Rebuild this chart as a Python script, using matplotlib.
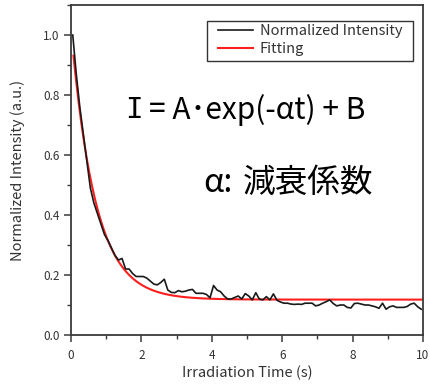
import numpy as np
import matplotlib
matplotlib.use("Agg")
import matplotlib.pyplot as plt
from matplotlib.ticker import MultipleLocator
from matplotlib.patches import Rectangle

plt.rcParams['font.family'] = ['Noto Sans CJK JP', 'DejaVu Sans']

# ---- data ----
t_start = 0.05
t_step = 0.1
intensity = [
    1.00, 0.87, 0.76, 0.67, 0.58, 0.49, 0.44, 0.405, 0.37, 0.335,
    0.315, 0.29, 0.265, 0.25, 0.255, 0.22, 0.22, 0.205, 0.195, 0.195,
    0.195, 0.19, 0.18, 0.17, 0.167, 0.175, 0.186, 0.15, 0.142, 0.141,
    0.148, 0.144, 0.146, 0.15, 0.152, 0.139, 0.139, 0.139, 0.135, 0.124,
    0.165, 0.15, 0.144, 0.13, 0.12, 0.12, 0.125, 0.13, 0.12, 0.138,
    0.13, 0.117, 0.141, 0.12, 0.117, 0.128, 0.117, 0.137, 0.116, 0.11,
    0.106, 0.106, 0.103, 0.102, 0.103, 0.102, 0.106, 0.106, 0.106, 0.097,
    0.100, 0.106, 0.111, 0.117, 0.105, 0.097, 0.100, 0.100, 0.092, 0.090,
    0.105, 0.106, 0.103, 0.100, 0.100, 0.097, 0.094, 0.089, 0.106, 0.086,
    0.094, 0.097, 0.092, 0.092, 0.092, 0.095, 0.103, 0.106, 0.094, 0.086,
]
time = t_start + t_step * np.arange(len(intensity))

# fitting parameters  I = A*exp(-alpha t) + B
fit_A = 0.90
fit_alpha = 1.45
fit_B = 0.118
fit_t0 = 0.07

x_ticks = [0, 2, 4, 6, 8, 10]
y_ticks = [0.0, 0.2, 0.4, 0.6, 0.8, 1.0]

W, H = 430, 387
fig = plt.figure(figsize=(W/100, H/100), dpi=100)
ax = fig.add_axes([71/W, 52/H, 352/W, 330/H])

t_fit = np.linspace(fit_t0, 10, 400)
ax.plot(time, intensity, color='#1a1a1a', lw=1.2, label='Normalized Intensity', zorder=3)
ax.plot(t_fit, fit_A*np.exp(-fit_alpha*t_fit) + fit_B, color='#ff1e1e', lw=1.5,
        label='Fitting', zorder=2)

ax.set_xlim(0, 10)
ax.set_ylim(0, 1.1)
ax.set_xticks(x_ticks)
ax.set_xticklabels([str(v) for v in x_ticks])
ax.set_yticks(y_ticks)
ax.set_yticklabels([f"{v:.1f}" for v in y_ticks])
ax.xaxis.set_minor_locator(MultipleLocator(1))
ax.yaxis.set_minor_locator(MultipleLocator(0.1))
spc = '#3a3a3a'
for s in ax.spines.values():
    s.set_color(spc)
    s.set_linewidth(1.3)
ax.tick_params(which='major', direction='out', length=5, width=1.1, color=spc,
               labelsize=8.5, labelcolor='#333333', top=False, right=False)
ax.tick_params(axis='y', which='major', pad=3)
ax.tick_params(axis='x', which='major', pad=5)
ax.tick_params(which='minor', direction='out', length=3, width=1.0, color=spc,
               top=False, right=False)

ax.set_ylabel('Normalized Intensity (a.u.)', fontsize=10.5, color='#333333', labelpad=13)
ax.set_xlabel('Irradiation Time (s)', fontsize=10.5, color='#333333', labelpad=3)

# legend (frame drawn separately as a box)
def ax_x(px):
    return (px - 71) / 352
def ax_y(py):
    return (335 - py) / 330

leg = ax.legend(loc='upper left', bbox_to_anchor=(ax_x(218), ax_y(24)), borderaxespad=0,
                fontsize=10.5, frameon=False, handlelength=2.4,
                handletextpad=0.45, borderpad=0, labelspacing=0.3)
for txt in leg.get_texts():
    txt.set_color('#333333')
ax.add_patch(Rectangle((ax_x(207), ax_y(61)), ax_x(413) - ax_x(207), ax_y(21) - ax_y(61),
                       transform=ax.transAxes, fill=False, edgecolor='#333333', lw=1.0,
                       zorder=4))

fig.text(125/W, 1 - 110/H, 'I', fontsize=21, color='black', family='DejaVu Sans Mono',
         ha='left', va='center')
fig.text(149/W, 1 - 110/H, '= A･exp(-αt) + B', fontsize=21.5, color='black',
         ha='left', va='center')
fig.text(203/W, 1 - 183/H, 'α:', fontsize=23.5, color='black',
         ha='left', va='center')
fig.text(243/W, 1 - 183/H, '減衰係数', fontsize=23.5, color='black',
         ha='left', va='center')

fig.savefig('out.png', dpi=100)
